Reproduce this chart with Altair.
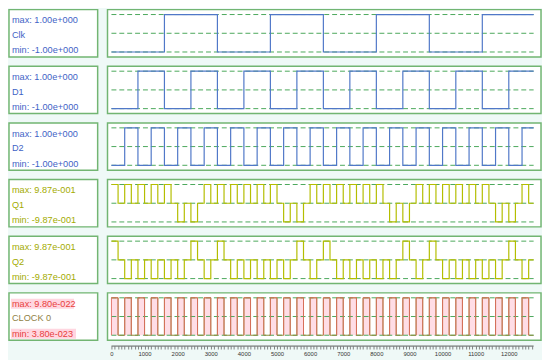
import altair as alt
import pandas as pd

# ---------------- data ----------------
T_END = 12750
names = ["Clk", "D1", "D2", "Q1", "Q2", "CLOCK 0"]
max_labels = ["max: 1.00e+000", "max: 1.00e+000", "max: 1.00e+000",
              "max: 9.87e-001", "max: 9.87e-001", "max: 9.80e-022"]
min_labels = ["min: -1.00e+000", "min: -1.00e+000", "min: -1.00e+000",
              "min: -9.87e-001", "min: -9.87e-001", "min: 3.80e-023"]
sig_max = [1.0, 1.0, 1.0, 0.987, 0.987, 9.80e-22]
sig_min = [-1.0, -1.0, -1.0, -0.987, -0.987, 3.80e-23]

# square waves: one level per step (L = min, H = max)
clk_step, clk_levels = 1600, "LHLHLHLH"
d1_step, d1_levels = 800, "LHLHLHLHLHLHLHLH"
d2_step, d2_levels = 400, "LHLHLHLHLHLHLHLHLHLHLHLHLHLHLHLH"
clock0_step = 200
clock0_levels = "HLHLHLHLHLHLHLHLHLHLHLHLHLHLHLHLHLHLHLHLHLHLHLHLHLHLHLHLHLHLHLHL"
# pulse trains: one 200-wide pulse per 400 slot (H = up to max, L = down to min)
q_slot = 400
q1_pulses = "HHHHHLLHHHHHHLLHHHHHHLLHHHHHHLLH"
q2_pulses = "HLLLLLHLHLLLLLHLHLLLLLHLHLLLLLHL"

axis_ticks = list(range(0, 12800, 100))

# ---------------- styling ----------------
GREEN = "#72b572"
DASH = "#4aa85a"
BLUE = "#5078c8"
BLUE_TXT = "#3f63c6"
OLIVE = "#b4be00"
OLIVE_TXT = "#a3ab00"
RED_TXT = "#e8413c"
PINK = "#ffd6e0"
FONT = "Liberation Sans"

W_BOX, W_PAN, H = 90, 440, 48
PX_PER_T = 403.3 / 12000.0
X0 = -4 / PX_PER_T
X1 = X0 + W_PAN / PX_PER_T

BOTTOM_AXIS = alt.Axis(
    values=axis_ticks, orient="bottom", offset=6, domain=False, grid=False,
    tickSize=3, tickWidth=0.6, tickColor="#333333", format="d",
    labelExpr="datum.value % 1000 === 0 ? datum.label : ''",
    labelOverlap=False, labelFlush=False, labelFontSize=6, labelFont=FONT,
    labelColor="#333333", labelPadding=2, title=None)


def square_points(step, levels, i):
    pts = []
    for k, c in enumerate(levels):
        t0, t1 = k * step, min((k + 1) * step, T_END)
        if t0 >= T_END:
            break
        v = sig_max[i] if c == "H" else sig_min[i]
        pts += [(t0, v), (t1, v)]
    return pd.DataFrame({"t": [p[0] for p in pts], "v": [p[1] for p in pts],
                         "i": list(range(len(pts)))})


def pulse_points(pulses, i):
    pts = []
    for k, c in enumerate(pulses):
        t0 = k * q_slot
        v = sig_max[i] if c == "H" else sig_min[i]
        for a, b, val in [(t0, t0 + q_slot // 2, v), (t0 + q_slot // 2, t0 + q_slot, 0.0)]:
            if a >= T_END:
                continue
            pts += [(a, val), (min(b, T_END), val)]
    return pd.DataFrame({"t": [p[0] for p in pts], "v": [p[1] for p in pts],
                         "i": list(range(len(pts)))})


def scales(i):
    lo, hi = sig_min[i], sig_max[i]
    pad = (hi - lo) * 5.0 / (H - 10)
    xs = alt.Scale(domain=[X0, X1], nice=False, zero=False)
    ys = alt.Scale(domain=[lo - pad, hi + pad], nice=False, zero=False)
    return xs, ys


def grid_layer(i, xaxis=None):
    lo, hi = sig_min[i], sig_max[i]
    xs, ys = scales(i)
    g = pd.DataFrame({"t0": [0, 0, 0], "t1": [T_END] * 3, "v": [lo, (lo + hi) / 2, hi]})
    return alt.Chart(g).mark_rule(color=DASH, strokeDash=[5, 3], strokeWidth=1).encode(
        x=alt.X("t0:Q", scale=xs, axis=xaxis), x2="t1:Q",
        y=alt.Y("v:Q", scale=ys, axis=None))


def line_layer(i, df, color, width=1.2, xaxis=None):
    xs, ys = scales(i)
    return alt.Chart(df).mark_line(color=color, strokeWidth=width).encode(
        x=alt.X("t:Q", scale=xs, axis=xaxis),
        y=alt.Y("v:Q", scale=ys, axis=None),
        order="i:Q")


def label_box(i, color, name_color=None, highlight=False):
    one = pd.DataFrame({"a": [0]})
    layers = []
    if highlight:
        layers.append(alt.Chart(one).mark_rect(color=PINK).encode(
            x=alt.value(2), x2=alt.value(66), y=alt.value(6), y2=alt.value(16)))
        layers.append(alt.Chart(one).mark_rect(color=PINK).encode(
            x=alt.value(2), x2=alt.value(68), y=alt.value(36.5), y2=alt.value(46.5)))
    for txt, yy, col in [(max_labels[i], 11, color), (names[i], 26, name_color or color),
                         (min_labels[i], 41.5, color)]:
        layers.append(alt.Chart(pd.DataFrame({"txt": [txt]})).mark_text(
            align="left", baseline="middle", font=FONT, fontSize=9.3, color=col).encode(
            x=alt.value(3), y=alt.value(yy), text="txt:N"))
    return alt.layer(*layers).properties(width=W_BOX, height=H)


rows = []
# Clk, D1, D2
for i, (step, lev) in enumerate([(clk_step, clk_levels), (d1_step, d1_levels), (d2_step, d2_levels)]):
    pan = alt.layer(grid_layer(i), line_layer(i, square_points(step, lev, i), BLUE)).properties(
        width=W_PAN, height=H)
    rows.append(alt.hconcat(label_box(i, BLUE_TXT), pan, spacing=8))

# Q1, Q2
for i, pul in [(3, q1_pulses), (4, q2_pulses)]:
    pan = alt.layer(grid_layer(i), line_layer(i, pulse_points(pul, i), OLIVE)).properties(
        width=W_PAN, height=H)
    rows.append(alt.hconcat(label_box(i, OLIVE_TXT), pan, spacing=8))

# CLOCK 0
i = 5
xs, ys = scales(i)
hi_rects = pd.DataFrame({
    "t0": [k * clock0_step for k, c in enumerate(clock0_levels) if c == "H" and k * clock0_step < T_END],
})
hi_rects["t1"] = (hi_rects["t0"] + clock0_step).clip(upper=T_END)
hi_rects["lo"] = sig_min[i]
hi_rects["hi"] = sig_max[i]
fill = alt.Chart(hi_rects).mark_rect(color="#ffdde6").encode(
    x=alt.X("t0:Q", scale=xs, axis=BOTTOM_AXIS), x2="t1:Q",
    y=alt.Y("lo:Q", scale=ys, axis=None), y2="hi:Q")
red_pts = []
for _, r in hi_rects.iterrows():
    for tt, vv in [(r.t0, r.lo), (r.t0, r.hi), (r.t1, r.hi), (r.t1, r.lo)]:
        red_pts.append({"t": tt, "v": vv, "p": r.t0, "i": len(red_pts)})
red = alt.Chart(pd.DataFrame(red_pts)).mark_line(color="#e06a5e", strokeWidth=0.9).encode(
    x=alt.X("t:Q", scale=xs, axis=BOTTOM_AXIS), y=alt.Y("v:Q", scale=ys, axis=None),
    detail="p:N", order="i:Q")
olive = line_layer(i, square_points(clock0_step, clock0_levels, i), "#8c8c3a", 1.0,
                   xaxis=BOTTOM_AXIS)
axis_line = alt.Chart(pd.DataFrame({"t0": [0], "t1": [T_END]})).mark_rule(
    color="#333333", strokeWidth=0.8).encode(
    x=alt.X("t0:Q", scale=xs, axis=BOTTOM_AXIS),
    x2="t1:Q", y=alt.value(H + 6))
pan = alt.layer(fill, grid_layer(i, BOTTOM_AXIS), olive, red, axis_line).properties(
    width=W_PAN, height=H)
rows.append(alt.hconcat(label_box(i, RED_TXT, "#8f7f45", highlight=True), pan, spacing=8))

chart = alt.vconcat(*rows, spacing=7.5).properties(
    padding={"left": 0, "top": -2, "right": 0, "bottom": 0}
).configure(background="#eff9f7").configure_view(
    stroke=GREEN, strokeWidth=1.5, fill="white")

chart.save("out.html", embed_options={"renderer": "svg", "actions": False})
